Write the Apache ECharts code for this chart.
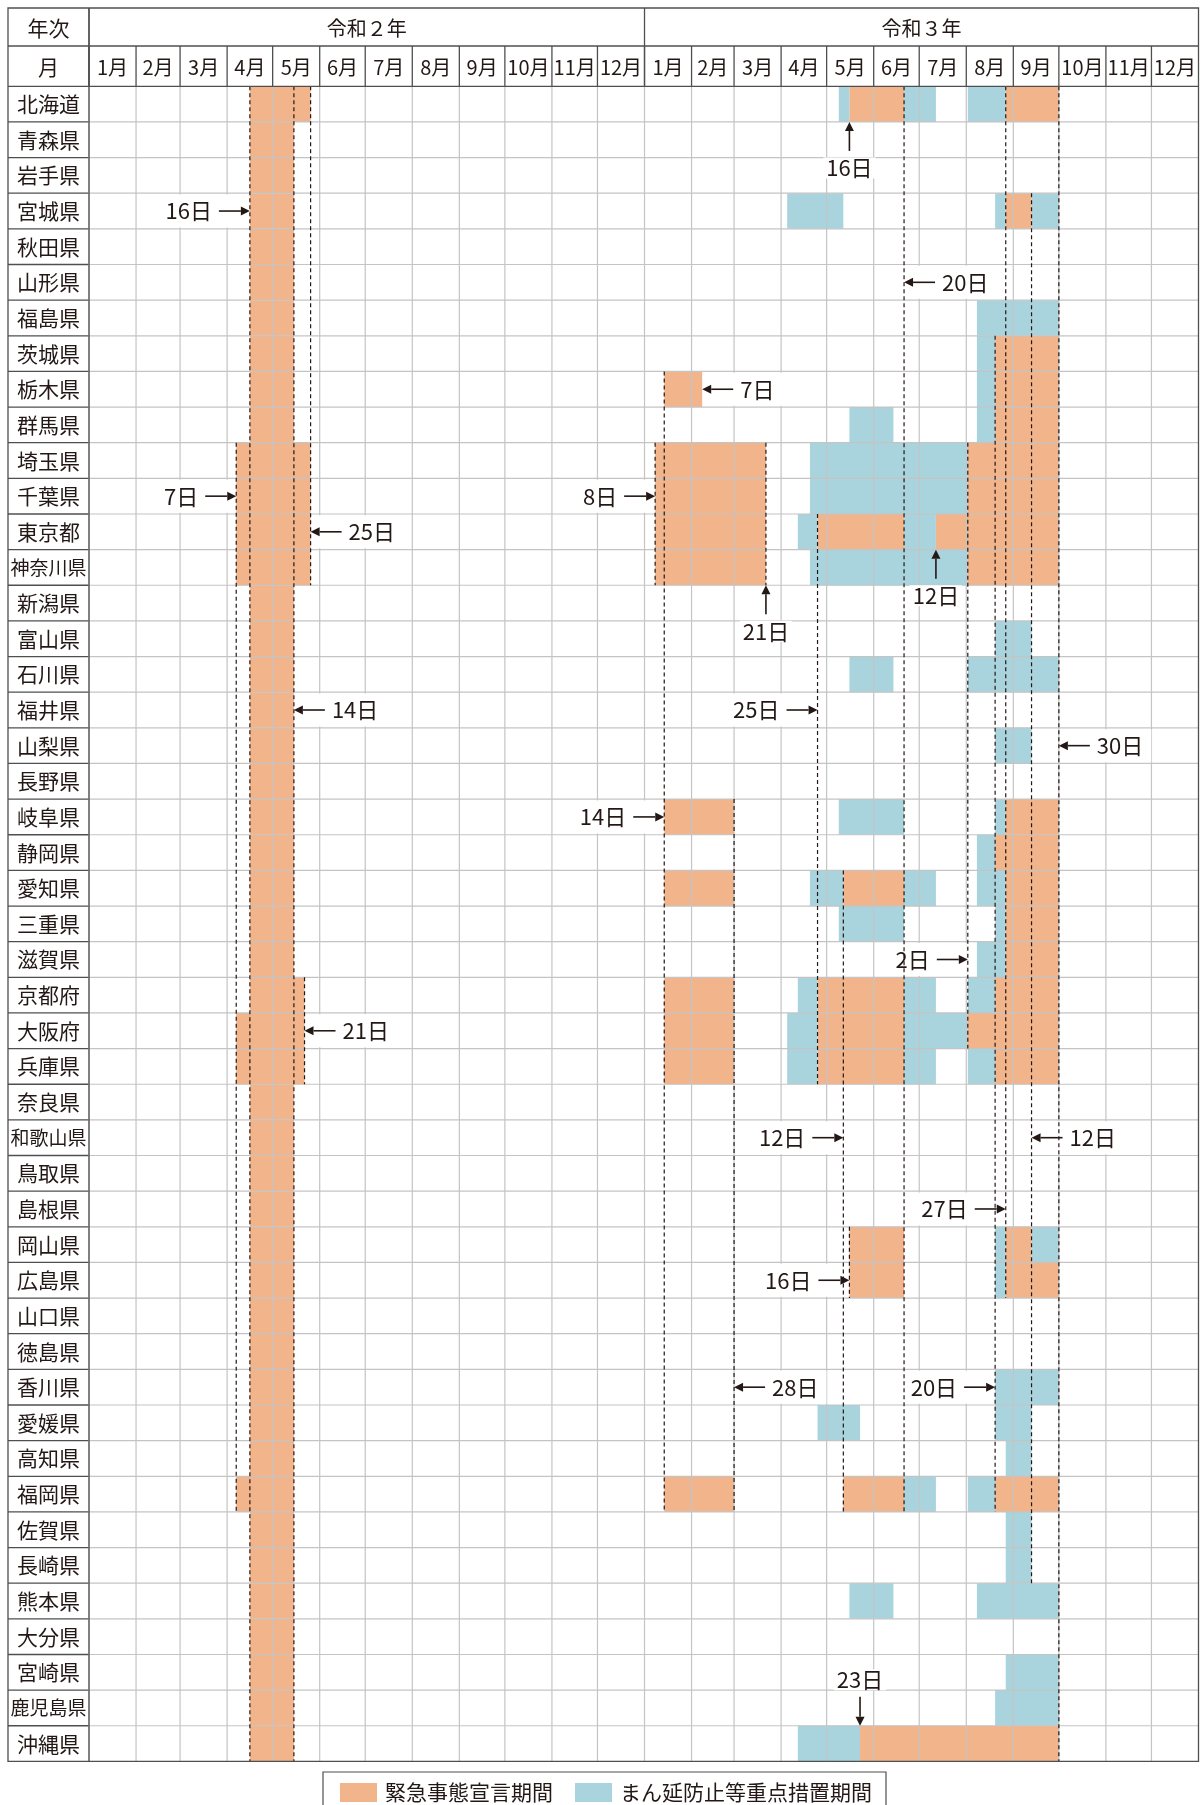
<!DOCTYPE html>
<html lang="ja">
<head>
<meta charset="utf-8">
<title>緊急事態宣言・まん延防止等重点措置の期間</title>
<script src="https://cdn.jsdelivr.net/npm/echarts@6/dist/echarts.min.js"></script>
<style>
  html, body { margin: 0; padding: 0; background: #fff; }
  #chart { width: 1202px; height: 1805px; }
</style>
</head>
<body>
<div id="chart"></div>
<script>
const prefectures = [
  '北海道', '青森県', '岩手県', '宮城県', '秋田県', '山形県', '福島県', '茨城県',
  '栃木県', '群馬県', '埼玉県', '千葉県', '東京都', '神奈川県', '新潟県', '富山県',
  '石川県', '福井県', '山梨県', '長野県', '岐阜県', '静岡県', '愛知県', '三重県',
  '滋賀県', '京都府', '大阪府', '兵庫県', '奈良県', '和歌山県', '鳥取県', '島根県',
  '岡山県', '広島県', '山口県', '徳島県', '香川県', '愛媛県', '高知県', '福岡県',
  '佐賀県', '長崎県', '熊本県', '大分県', '宮崎県', '鹿児島県', '沖縄県'
];
const years = [2020, 2021];
const yearLabels = ['令和２年', '令和３年'];
const monthLabels = ['1月', '2月', '3月', '4月', '5月', '6月', '7月', '8月', '9月', '10月', '11月', '12月'];

// 緊急事態宣言期間: [prefectures, first day, last day]
const emergency = [
  [['埼玉県', '千葉県', '東京都', '神奈川県'], '2020-04-07', '2020-05-25'],
  [['大阪府', '兵庫県'], '2020-04-07', '2020-05-21'],
  [['福岡県'], '2020-04-07', '2020-05-14'],
  [['北海道'], '2020-04-16', '2020-05-25'],
  [['京都府'], '2020-04-16', '2020-05-21'],
  [['青森県', '岩手県', '宮城県', '秋田県', '山形県', '福島県', '茨城県', '栃木県', '群馬県',
    '新潟県', '富山県', '石川県', '福井県', '山梨県', '長野県', '岐阜県', '静岡県', '愛知県',
    '三重県', '滋賀県', '奈良県', '和歌山県', '鳥取県', '島根県', '岡山県', '広島県', '山口県',
    '徳島県', '香川県', '愛媛県', '高知県', '佐賀県', '長崎県', '熊本県', '大分県', '宮崎県',
    '鹿児島県', '沖縄県'], '2020-04-16', '2020-05-14'],
  [['埼玉県', '千葉県', '東京都', '神奈川県'], '2021-01-08', '2021-03-21'],
  [['栃木県'], '2021-01-14', '2021-02-07'],
  [['岐阜県', '愛知県', '京都府', '大阪府', '兵庫県', '福岡県'], '2021-01-14', '2021-02-28'],
  [['東京都', '京都府', '大阪府', '兵庫県'], '2021-04-25', '2021-06-20'],
  [['愛知県', '福岡県'], '2021-05-12', '2021-06-20'],
  [['北海道', '岡山県', '広島県'], '2021-05-16', '2021-06-20'],
  [['沖縄県'], '2021-05-23', '2021-09-30'],
  [['東京都'], '2021-07-12', '2021-09-30'],
  [['埼玉県', '千葉県', '神奈川県', '大阪府'], '2021-08-02', '2021-09-30'],
  [['茨城県', '栃木県', '群馬県', '静岡県', '京都府', '兵庫県', '福岡県'], '2021-08-20', '2021-09-30'],
  [['北海道', '岐阜県', '愛知県', '三重県', '滋賀県', '広島県'], '2021-08-27', '2021-09-30'],
  [['宮城県', '岡山県'], '2021-08-27', '2021-09-12']
];

// まん延防止等重点措置期間
const priority = [
  [['宮城県'], '2021-04-05', '2021-05-11'],
  [['大阪府', '兵庫県'], '2021-04-05', '2021-04-24'],
  [['東京都', '京都府'], '2021-04-12', '2021-04-24'],
  [['沖縄県'], '2021-04-12', '2021-05-22'],
  [['埼玉県', '千葉県', '神奈川県'], '2021-04-20', '2021-08-01'],
  [['愛知県'], '2021-04-20', '2021-05-11'],
  [['愛媛県'], '2021-04-25', '2021-05-22'],
  [['北海道'], '2021-05-09', '2021-05-15'],
  [['岐阜県', '三重県'], '2021-05-09', '2021-06-20'],
  [['群馬県', '石川県', '熊本県'], '2021-05-16', '2021-06-13'],
  [['北海道', '東京都', '愛知県', '京都府', '兵庫県', '福岡県'], '2021-06-21', '2021-07-11'],
  [['大阪府'], '2021-06-21', '2021-08-01'],
  [['北海道'], '2021-08-02', '2021-08-26'],
  [['石川県'], '2021-08-02', '2021-09-30'],
  [['京都府', '兵庫県', '福岡県'], '2021-08-02', '2021-08-19'],
  [['福島県', '熊本県'], '2021-08-08', '2021-09-30'],
  [['茨城県', '栃木県', '群馬県', '静岡県'], '2021-08-08', '2021-08-19'],
  [['愛知県', '滋賀県'], '2021-08-08', '2021-08-26'],
  [['宮城県', '岐阜県', '三重県', '岡山県', '広島県'], '2021-08-20', '2021-08-26'],
  [['富山県', '山梨県', '愛媛県'], '2021-08-20', '2021-09-12'],
  [['香川県', '鹿児島県'], '2021-08-20', '2021-09-30'],
  [['高知県', '佐賀県', '長崎県'], '2021-08-27', '2021-09-12'],
  [['宮崎県'], '2021-08-27', '2021-09-30'],
  [['宮城県', '岡山県'], '2021-09-13', '2021-09-30']
];

// dashed guide lines: [boundary day, first row, last row]
const dashedLines = [
  ['2020-04-07', '埼玉県', '福岡県'],
  ['2020-04-16', '北海道', '沖縄県'],
  ['2020-05-15', '北海道', '沖縄県'],
  ['2020-05-22', '京都府', '兵庫県'],
  ['2020-05-26', '北海道', '神奈川県'],
  ['2021-01-08', '埼玉県', '神奈川県'],
  ['2021-01-14', '栃木県', '福岡県'],
  ['2021-03-01', '岐阜県', '福岡県'],
  ['2021-03-22', '埼玉県', '神奈川県'],
  ['2021-04-25', '東京都', '兵庫県'],
  ['2021-05-12', '愛知県', '福岡県'],
  ['2021-05-16', '岡山県', '広島県'],
  ['2021-06-21', '北海道', '福岡県'],
  ['2021-08-02', '埼玉県', '大阪府'],
  ['2021-08-20', '茨城県', '福岡県'],
  ['2021-08-27', '北海道', '広島県'],
  ['2021-09-13', '宮城県', '長崎県'],
  ['2021-10-01', '北海道', '沖縄県']
];

// arrow notes: [boundary day, row, arrow direction, text]
const notes = [
  ['2020-04-16', '宮城県', 'right', '16日'],
  ['2020-04-07', '千葉県', 'right', '7日'],
  ['2020-05-26', '東京都', 'left', '25日'],
  ['2020-05-15', '福井県', 'left', '14日'],
  ['2020-05-22', '大阪府', 'left', '21日'],
  ['2021-01-08', '千葉県', 'right', '8日'],
  ['2021-01-14', '岐阜県', 'right', '14日'],
  ['2021-02-08', '栃木県', 'left', '7日'],
  ['2021-03-22', '神奈川県', 'up', '21日'],
  ['2021-03-01', '香川県', 'left', '28日'],
  ['2021-04-25', '福井県', 'right', '25日'],
  ['2021-05-12', '和歌山県', 'right', '12日'],
  ['2021-05-16', '北海道', 'up', '16日'],
  ['2021-05-16', '広島県', 'right', '16日'],
  ['2021-05-23', '沖縄県', 'down', '23日'],
  ['2021-06-21', '山形県', 'left', '20日'],
  ['2021-07-12', '東京都', 'up', '12日'],
  ['2021-08-02', '滋賀県', 'right', '2日'],
  ['2021-08-20', '香川県', 'right', '20日'],
  ['2021-08-27', '島根県', 'right', '27日'],
  ['2021-09-13', '和歌山県', 'left', '12日'],
  ['2021-10-01', '山梨県', 'left', '30日']
];

const FONT = '"Noto Sans CJK JP", "Noto Sans", sans-serif';
const INK = '#231815';
const ORANGE = '#f2b48b';
const BLUE = '#a9d4de';
const GRID = '#c4c4c4';
const RULE = '#4f4f4f';
const NOTE_FONT = '22px ' + FONT;

const TABLE_LEFT = 8;
const TABLE_TOP = 8;
const TABLE_RIGHT = 1198.5;
const TABLE_BOTTOM = 1761.4;
const YEAR_ROW_BOTTOM = 46;
const HEAD_BOTTOM = 86.3;
const LABEL_RIGHT = 89;
const G_PAD = 7;

function day(s) {
  const [y, m, d] = s.split('-').map(Number);
  return new Date(y, m - 1, d).getTime();
}
function dayAfter(s) {
  const [y, m, d] = s.split('-').map(Number);
  return new Date(y, m - 1, d + 1).getTime();
}
function rowOf(name) {
  return prefectures.indexOf(name);
}
function periodData(list) {
  const out = [];
  list.forEach(([prefs, start, end]) => {
    prefs.forEach((p) => out.push([rowOf(p), day(start), dayAfter(end)]));
  });
  return out;
}

const monthCells = [];
years.forEach((y) => {
  monthLabels.forEach((label, m) => {
    monthCells.push([new Date(y, m, 1).getTime(), new Date(y, m + 1, 1).getTime(), label]);
  });
});
const yearCells = years.map((y, i) => [new Date(y, 0, 1).getTime(), new Date(y + 1, 0, 1).getTime(), yearLabels[i]]);

function renderBar(params, api) {
  const a = api.coord([api.value(1), api.value(0)]);
  const b = api.coord([api.value(2), api.value(0)]);
  const h = api.size([0, 1])[1];
  return {
    type: 'rect',
    shape: { x: a[0], y: a[1] - h / 2, width: b[0] - a[0], height: h },
    style: { fill: api.visual('color') }
  };
}

function renderRowLine(params, api) {
  if (params.dataIndex === prefectures.length - 1) return null;
  const p = api.coord([api.value(0), api.value(1)]);
  const h = api.size([0, 1])[1];
  const y = p[1] + h / 2;
  const cs = params.coordSys;
  return {
    type: 'group',
    children: [
      { type: 'line', shape: { x1: TABLE_LEFT, y1: y, x2: LABEL_RIGHT, y2: y }, style: { stroke: RULE, lineWidth: 1.3 } },
      { type: 'line', shape: { x1: LABEL_RIGHT, y1: y, x2: cs.x + cs.width, y2: y }, style: { stroke: GRID, lineWidth: 1.2 } }
    ]
  };
}

function renderMonth(params, api) {
  const x0 = api.coord([api.value(0), 0])[0];
  const x1 = api.coord([api.value(1), 0])[0];
  const cs = params.coordSys;
  return {
    type: 'group',
    children: [
      { type: 'line', shape: { x1: x0, y1: YEAR_ROW_BOTTOM, x2: x0, y2: HEAD_BOTTOM }, style: { stroke: RULE, lineWidth: 1.3 } },
      { type: 'line', shape: { x1: x0, y1: cs.y, x2: x0, y2: cs.y + cs.height }, style: { stroke: GRID, lineWidth: 1.2 } },
      {
        type: 'text',
        style: {
          x: (x0 + x1) / 2, y: (YEAR_ROW_BOTTOM + HEAD_BOTTOM) / 2 + 1,
          text: monthCells[params.dataIndex][2],
          align: 'center', verticalAlign: 'middle',
          font: '20px ' + FONT, fill: INK
        }
      }
    ]
  };
}

function renderYear(params, api) {
  const x0 = api.coord([api.value(0), 0])[0];
  const x1 = api.coord([api.value(1), 0])[0];
  return {
    type: 'group',
    children: [
      { type: 'line', shape: { x1: x0, y1: TABLE_TOP, x2: x0, y2: HEAD_BOTTOM }, style: { stroke: RULE, lineWidth: 1.3 } },
      {
        type: 'text',
        style: {
          x: (x0 + x1) / 2, y: (TABLE_TOP + YEAR_ROW_BOTTOM) / 2 + 1,
          text: yearCells[params.dataIndex][2],
          align: 'center', verticalAlign: 'middle',
          font: '20px ' + FONT, fill: INK
        }
      }
    ]
  };
}

function renderDash(params, api) {
  const a = api.coord([api.value(0), api.value(1)]);
  const b = api.coord([api.value(0), api.value(2)]);
  const h = api.size([0, 1])[1];
  return {
    type: 'line',
    shape: { x1: a[0], y1: a[1] - h / 2, x2: a[0], y2: b[1] + h / 2 },
    style: { stroke: INK, lineWidth: 1.2, lineDash: [4, 3] }
  };
}

// geometry of one arrow note
function noteLayout(params, api) {
  const note = notes[params.dataIndex];
  const p = api.coord([api.value(0), api.value(1)]);
  const h = api.size([0, 1])[1];
  const x = p[0];
  const L = 31, G = 7;
  const dir = note[2];
  if (dir === 'right') return { dir, tip: [x, p[1]], tail: [x - L, p[1]], tx: x - L - G, ty: p[1], align: 'right', text: note[3] };
  if (dir === 'left') return { dir, tip: [x, p[1]], tail: [x + L, p[1]], tx: x + L + G, ty: p[1], align: 'left', text: note[3] };
  if (dir === 'up') return { dir, tip: [x, p[1] + h / 2], tail: [x, p[1] + h / 2 + 29], tx: x, ty: p[1] + h / 2 + 46, align: 'center', text: note[3] };
  return { dir, tip: [x, p[1] - h / 2], tail: [x, p[1] - h / 2 - 29], tx: x, ty: p[1] - h / 2 - 46, align: 'center', text: note[3] };
}

// white box behind a note, hiding the grid lines it crosses
function renderNoteBg(params, api) {
  const n = noteLayout(params, api);
  const children = [];
  const horizontal = n.dir === 'left' || n.dir === 'right';
  if (horizontal) {
    const xa = Math.min(n.tip[0], n.tail[0]);
    const xb = Math.max(n.tip[0], n.tail[0]);
    children.push({
      type: 'rect',
      shape: { x: xa + (n.dir === 'left' ? 1 : -G_PAD), y: n.tip[1] - 16.5, width: xb - xa + G_PAD - 1, height: 33 },
      style: { fill: '#fff' }
    });
  }
  children.push({
    type: 'text',
    style: {
      x: n.tx, y: n.ty, text: n.text, align: n.align, verticalAlign: 'middle',
      font: NOTE_FONT, lineHeight: 21, fill: '#fff',
      backgroundColor: '#fff', padding: horizontal ? [6, 4] : [0, 3]
    }
  });
  return { type: 'group', children };
}

function renderNote(params, api) {
  const n = noteLayout(params, api);
  const dx = n.tip[0] - n.tail[0];
  const dy = n.tip[1] - n.tail[1];
  const len = Math.sqrt(dx * dx + dy * dy);
  const ux = dx / len, uy = dy / len;
  const head = 9, half = 4.5;
  const bx = n.tip[0] - ux * head, by = n.tip[1] - uy * head;
  return {
    type: 'group',
    children: [
      { type: 'line', shape: { x1: n.tail[0], y1: n.tail[1], x2: bx, y2: by }, style: { stroke: INK, lineWidth: 1.6 } },
      {
        type: 'polygon',
        shape: { points: [n.tip, [bx - uy * half, by + ux * half], [bx + uy * half, by - ux * half]] },
        style: { fill: INK }
      },
      {
        type: 'text',
        style: {
          x: n.tx, y: n.ty, text: n.text, align: n.align, verticalAlign: 'middle',
          font: NOTE_FONT, fill: INK
        }
      }
    ]
  };
}

const chart = echarts.init(document.getElementById('chart'));

const option = {
  animation: false,
  grid: {
    left: LABEL_RIGHT,
    right: 1202 - TABLE_RIGHT,
    top: HEAD_BOTTOM,
    bottom: 1805 - TABLE_BOTTOM,
    containLabel: false,
    outerBoundsMode: 'none'
  },
  xAxis: {
    type: 'time',
    min: day('2020-01-01'),
    max: day('2022-01-01'),
    show: false
  },
  yAxis: {
    type: 'category',
    data: prefectures,
    inverse: true,
    axisLine: { show: false },
    axisTick: { show: false },
    splitLine: { show: false },
    axisLabel: {
      interval: 0,
      align: 'center',
      margin: LABEL_RIGHT - (TABLE_LEFT + LABEL_RIGHT) / 2,
      fontFamily: 'Noto Sans CJK JP',
      fontSize: 21,
      color: INK,
      formatter: (v) => (v.length > 3 ? '{s|' + v + '}' : v),
      rich: { s: { fontSize: 19, fontFamily: 'Noto Sans CJK JP', color: INK } }
    }
  },
  legend: {
    data: ['緊急事態宣言期間', 'まん延防止等重点措置期間'],
    left: 323,
    top: 1772,
    icon: 'rect',
    itemWidth: 37,
    itemHeight: 19,
    itemGap: 22,
    padding: [10, 14, 10, 17],
    borderColor: '#4f4f4f',
    borderWidth: 1.2,
    selectedMode: false,
    textStyle: { fontFamily: 'Noto Sans CJK JP', fontSize: 21, color: INK, padding: [0, 0, 0, 3] }
  },
  graphic: [
    {
      type: 'rect', z: 100,
      shape: { x: TABLE_LEFT, y: TABLE_TOP, width: TABLE_RIGHT - TABLE_LEFT, height: TABLE_BOTTOM - TABLE_TOP },
      style: { fill: 'transparent', stroke: RULE, lineWidth: 1.3 }
    },
    { type: 'line', z: 100, shape: { x1: TABLE_LEFT, y1: YEAR_ROW_BOTTOM, x2: TABLE_RIGHT, y2: YEAR_ROW_BOTTOM }, style: { stroke: RULE, lineWidth: 1.3 } },
    { type: 'line', z: 100, shape: { x1: TABLE_LEFT, y1: HEAD_BOTTOM, x2: TABLE_RIGHT, y2: HEAD_BOTTOM }, style: { stroke: RULE, lineWidth: 1.3 } },
    { type: 'line', z: 100, shape: { x1: LABEL_RIGHT, y1: TABLE_TOP, x2: LABEL_RIGHT, y2: TABLE_BOTTOM }, style: { stroke: RULE, lineWidth: 1.3 } },
    {
      type: 'text', z: 100,
      style: { x: (TABLE_LEFT + LABEL_RIGHT) / 2, y: (TABLE_TOP + YEAR_ROW_BOTTOM) / 2 + 1, text: '年次', align: 'center', verticalAlign: 'middle', font: '21px ' + FONT, fill: INK }
    },
    {
      type: 'text', z: 100,
      style: { x: (TABLE_LEFT + LABEL_RIGHT) / 2, y: (YEAR_ROW_BOTTOM + HEAD_BOTTOM) / 2 + 1, text: '月', align: 'center', verticalAlign: 'middle', font: '21px ' + FONT, fill: INK }
    }
  ],
  series: [
    {
      name: '緊急事態宣言期間',
      type: 'custom',
      z: 1,
      silent: true,
      itemStyle: { color: ORANGE },
      encode: { x: [1, 2], y: 0 },
      renderItem: renderBar,
      data: periodData(emergency)
    },
    {
      name: 'まん延防止等重点措置期間',
      type: 'custom',
      z: 1,
      silent: true,
      itemStyle: { color: BLUE },
      encode: { x: [1, 2], y: 0 },
      renderItem: renderBar,
      data: periodData(priority)
    },
    {
      name: 'rows',
      type: 'custom',
      z: 2,
      silent: true,
      encode: { x: 0, y: 1 },
      renderItem: renderRowLine,
      data: prefectures.map((p, i) => [day('2020-01-01'), i])
    },
    {
      name: 'months',
      type: 'custom',
      z: 2,
      silent: true,
      encode: { x: [0, 1] },
      renderItem: renderMonth,
      data: monthCells.map((c) => [c[0], c[1], 0])
    },
    {
      name: 'years',
      type: 'custom',
      z: 6,
      silent: true,
      encode: { x: [0, 1] },
      renderItem: renderYear,
      data: yearCells.map((c) => [c[0], c[1], 0])
    },
    {
      name: 'noteBg',
      type: 'custom',
      z: 3,
      silent: true,
      encode: { x: 0, y: 1 },
      renderItem: renderNoteBg,
      data: notes.map((n) => [day(n[0]), rowOf(n[1])])
    },
    {
      name: 'dashes',
      type: 'custom',
      z: 4,
      silent: true,
      encode: { x: 0, y: [1, 2] },
      renderItem: renderDash,
      data: dashedLines.map((d) => [day(d[0]), rowOf(d[1]), rowOf(d[2])])
    },
    {
      name: 'notes',
      type: 'custom',
      z: 5,
      silent: true,
      encode: { x: 0, y: 1 },
      renderItem: renderNote,
      data: notes.map((n) => [day(n[0]), rowOf(n[1])])
    }
  ]
};

chart.setOption(option);
</script>
</body>
</html>
